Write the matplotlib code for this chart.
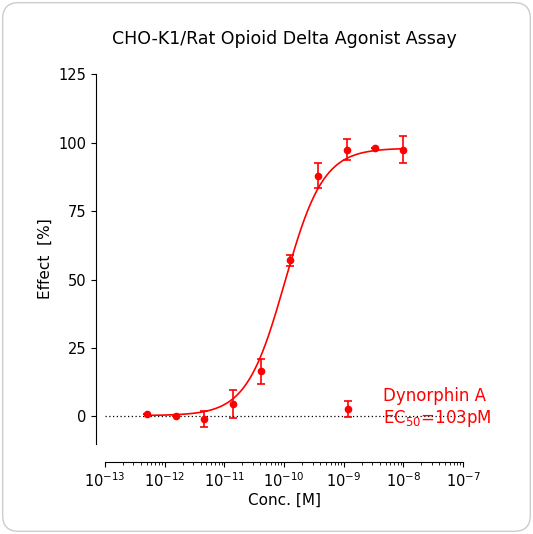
import numpy as np
import matplotlib.pyplot as plt
from matplotlib.patches import FancyBboxPatch

# Data
conc = 1e-8 / 3.0 ** np.arange(9, -1, -1)
effect = [0.8, 0.3, -1.0, 4.5, 16.5, 57.0, 88.0, 97.5, 98.0, 97.5]
err = [0.0, 0.0, 3.0, 5.0, 4.5, 2.0, 4.5, 4.0, 0.0, 5.0]
bottom, top, ec50, hill = 0.3, 98.0, 1.03e-10, 1.35

fig = plt.figure(figsize=(5.33, 5.34), dpi=100)
fig.patches.append(FancyBboxPatch((0.005, 0.005), 0.99, 0.99, boxstyle='round,pad=0,rounding_size=0.03',
                                  transform=fig.transFigure, fc='white', ec='#cccccc', lw=1, zorder=-10))
ax = fig.add_axes([0.197, 0.169, 0.672, 0.692])
ax.patch.set_alpha(0)

xs = np.logspace(-12.3, -8, 400)
ys = bottom + (top - bottom) / (1 + (ec50 / xs) ** hill)
ax.plot(xs, ys, color='red', lw=1.2)
ax.errorbar(conc, effect, yerr=err, fmt='o', color='red', ms=4.5, capsize=3, elinewidth=1.2, capthick=1.2,
            label='Dynorphin A\nEC$_{50}$=103pM')
ax.axhline(0, color='black', ls=(0, (1, 2)), lw=0.9)

ax.set_xscale('log')
ax.set_xlim(1e-13, 1e-7)
ax.set_ylim(-10, 125)
ax.set_yticks([0, 25, 50, 75, 100, 125])
ax.set_xticks(10.0 ** np.arange(-13, -6))
ax.tick_params(labelsize=10.5)
ax.spines['top'].set_visible(False)
ax.spines['right'].set_visible(False)
ax.spines['left'].set_position(('outward', 6.5))
ax.spines['bottom'].set_position(('outward', 13))
ax.set_xlabel('Conc. [M]', fontsize=11, labelpad=2)
ax.set_ylabel('Effect  [%]', fontsize=11)
ax.set_title('CHO-K1/Rat Opioid Delta Agonist Assay', fontsize=12.5, pad=22)
leg = ax.legend(loc='lower right', bbox_to_anchor=(1.12, 0.0), frameon=False, fontsize=12,
                handlelength=2.5, labelcolor='red')

plt.savefig('out.png', dpi=100)
